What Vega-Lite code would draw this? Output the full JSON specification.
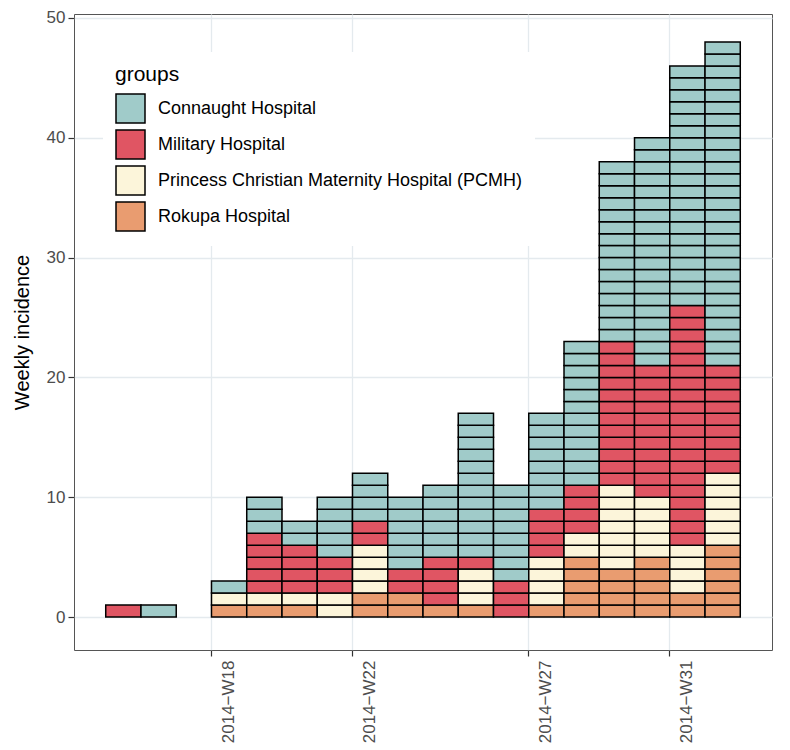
{
  "$schema": "https://vega.github.io/schema/vega-lite/v6.json",
  "width": 698,
  "height": 636,
  "autosize": {"type": "none"},
  "padding": {"left": 74, "top": 14, "right": 18, "bottom": 100},
  "background": "white",
  "config": {
    "font": "Liberation Sans",
    "view": {"stroke": "#555555", "strokeWidth": 1},
    "axis": {
      "domain": false,
      "gridColor": "#E4EAEE",
      "gridWidth": 1.3,
      "tickColor": "#333333",
      "tickSize": 6,
      "tickWidth": 1.2,
      "labelColor": "#4D4D4D",
      "labelFontSize": 17,
      "labelFont": "Liberation Sans",
      "titleFont": "Liberation Sans",
      "titleColor": "#000000",
      "titleFontSize": 20,
      "titleFontWeight": "normal"
    }
  },
  "datasets": {
    "hospitals": [
      {"code": "C", "hospital": "Connaught Hospital"},
      {"code": "M", "hospital": "Military Hospital"},
      {"code": "P", "hospital": "Princess Christian Maternity Hospital (PCMH)"},
      {"code": "R", "hospital": "Rokupa Hospital"}
    ],
    "cases": [
      {"week":15,"code":"M","n":1},
      {"week":16,"code":"C","n":1},
      {"week":18,"code":"R","n":1},{"week":18,"code":"P","n":1},{"week":18,"code":"C","n":1},
      {"week":19,"code":"R","n":1},{"week":19,"code":"P","n":1},
      {"week":19,"code":"M","n":1},{"week":19,"code":"M","n":1},{"week":19,"code":"M","n":1},{"week":19,"code":"M","n":1},{"week":19,"code":"M","n":1},
      {"week":19,"code":"C","n":1},{"week":19,"code":"C","n":1},{"week":19,"code":"C","n":1},
      {"week":20,"code":"R","n":1},{"week":20,"code":"P","n":1},
      {"week":20,"code":"M","n":1},{"week":20,"code":"M","n":1},{"week":20,"code":"M","n":1},{"week":20,"code":"M","n":1},
      {"week":20,"code":"C","n":1},{"week":20,"code":"C","n":1},
      {"week":21,"code":"P","n":1},{"week":21,"code":"P","n":1},
      {"week":21,"code":"M","n":1},{"week":21,"code":"M","n":1},{"week":21,"code":"M","n":1},
      {"week":21,"code":"C","n":1},{"week":21,"code":"C","n":1},{"week":21,"code":"C","n":1},{"week":21,"code":"C","n":1},{"week":21,"code":"C","n":1},
      {"week":22,"code":"R","n":1},{"week":22,"code":"R","n":1},
      {"week":22,"code":"P","n":1},{"week":22,"code":"P","n":1},{"week":22,"code":"P","n":1},{"week":22,"code":"P","n":1},
      {"week":22,"code":"M","n":1},{"week":22,"code":"M","n":1},
      {"week":22,"code":"C","n":1},{"week":22,"code":"C","n":1},{"week":22,"code":"C","n":1},{"week":22,"code":"C","n":1},
      {"week":23,"code":"R","n":1},{"week":23,"code":"R","n":1},
      {"week":23,"code":"M","n":1},{"week":23,"code":"M","n":1},
      {"week":23,"code":"C","n":1},{"week":23,"code":"C","n":1},{"week":23,"code":"C","n":1},{"week":23,"code":"C","n":1},{"week":23,"code":"C","n":1},{"week":23,"code":"C","n":1},
      {"week":24,"code":"R","n":1},
      {"week":24,"code":"M","n":1},{"week":24,"code":"M","n":1},{"week":24,"code":"M","n":1},{"week":24,"code":"M","n":1},
      {"week":24,"code":"C","n":1},{"week":24,"code":"C","n":1},{"week":24,"code":"C","n":1},{"week":24,"code":"C","n":1},{"week":24,"code":"C","n":1},{"week":24,"code":"C","n":1},
      {"week":25,"code":"R","n":1},
      {"week":25,"code":"P","n":1},{"week":25,"code":"P","n":1},{"week":25,"code":"P","n":1},
      {"week":25,"code":"M","n":1},
      {"week":25,"code":"C","n":1},{"week":25,"code":"C","n":1},{"week":25,"code":"C","n":1},{"week":25,"code":"C","n":1},{"week":25,"code":"C","n":1},{"week":25,"code":"C","n":1},
      {"week":25,"code":"C","n":1},{"week":25,"code":"C","n":1},{"week":25,"code":"C","n":1},{"week":25,"code":"C","n":1},{"week":25,"code":"C","n":1},{"week":25,"code":"C","n":1},
      {"week":26,"code":"M","n":1},{"week":26,"code":"M","n":1},{"week":26,"code":"M","n":1},
      {"week":26,"code":"C","n":1},{"week":26,"code":"C","n":1},{"week":26,"code":"C","n":1},{"week":26,"code":"C","n":1},
      {"week":26,"code":"C","n":1},{"week":26,"code":"C","n":1},{"week":26,"code":"C","n":1},{"week":26,"code":"C","n":1},
      {"week":27,"code":"R","n":1},
      {"week":27,"code":"P","n":1},{"week":27,"code":"P","n":1},{"week":27,"code":"P","n":1},{"week":27,"code":"P","n":1},
      {"week":27,"code":"M","n":1},{"week":27,"code":"M","n":1},{"week":27,"code":"M","n":1},{"week":27,"code":"M","n":1},
      {"week":27,"code":"C","n":1},{"week":27,"code":"C","n":1},{"week":27,"code":"C","n":1},{"week":27,"code":"C","n":1},
      {"week":27,"code":"C","n":1},{"week":27,"code":"C","n":1},{"week":27,"code":"C","n":1},{"week":27,"code":"C","n":1},
      {"week":28,"code":"R","n":1},{"week":28,"code":"R","n":1},{"week":28,"code":"R","n":1},{"week":28,"code":"R","n":1},{"week":28,"code":"R","n":1},
      {"week":28,"code":"P","n":1},{"week":28,"code":"P","n":1},
      {"week":28,"code":"M","n":1},{"week":28,"code":"M","n":1},{"week":28,"code":"M","n":1},{"week":28,"code":"M","n":1},
      {"week":28,"code":"C","n":1},{"week":28,"code":"C","n":1},{"week":28,"code":"C","n":1},{"week":28,"code":"C","n":1},{"week":28,"code":"C","n":1},{"week":28,"code":"C","n":1},
      {"week":28,"code":"C","n":1},{"week":28,"code":"C","n":1},{"week":28,"code":"C","n":1},{"week":28,"code":"C","n":1},{"week":28,"code":"C","n":1},{"week":28,"code":"C","n":1},
      {"week":29,"code":"R","n":1},{"week":29,"code":"R","n":1},{"week":29,"code":"R","n":1},{"week":29,"code":"R","n":1},
      {"week":29,"code":"P","n":1},{"week":29,"code":"P","n":1},{"week":29,"code":"P","n":1},{"week":29,"code":"P","n":1},{"week":29,"code":"P","n":1},{"week":29,"code":"P","n":1},{"week":29,"code":"P","n":1},
      {"week":29,"code":"M","n":1},{"week":29,"code":"M","n":1},{"week":29,"code":"M","n":1},{"week":29,"code":"M","n":1},{"week":29,"code":"M","n":1},{"week":29,"code":"M","n":1},
      {"week":29,"code":"M","n":1},{"week":29,"code":"M","n":1},{"week":29,"code":"M","n":1},{"week":29,"code":"M","n":1},{"week":29,"code":"M","n":1},{"week":29,"code":"M","n":1},
      {"week":29,"code":"C","n":1},{"week":29,"code":"C","n":1},{"week":29,"code":"C","n":1},{"week":29,"code":"C","n":1},{"week":29,"code":"C","n":1},
      {"week":29,"code":"C","n":1},{"week":29,"code":"C","n":1},{"week":29,"code":"C","n":1},{"week":29,"code":"C","n":1},{"week":29,"code":"C","n":1},
      {"week":29,"code":"C","n":1},{"week":29,"code":"C","n":1},{"week":29,"code":"C","n":1},{"week":29,"code":"C","n":1},{"week":29,"code":"C","n":1},
      {"week":30,"code":"R","n":1},{"week":30,"code":"R","n":1},{"week":30,"code":"R","n":1},{"week":30,"code":"R","n":1},{"week":30,"code":"R","n":1},
      {"week":30,"code":"P","n":1},{"week":30,"code":"P","n":1},{"week":30,"code":"P","n":1},{"week":30,"code":"P","n":1},{"week":30,"code":"P","n":1},
      {"week":30,"code":"M","n":1},{"week":30,"code":"M","n":1},{"week":30,"code":"M","n":1},{"week":30,"code":"M","n":1},{"week":30,"code":"M","n":1},{"week":30,"code":"M","n":1},
      {"week":30,"code":"M","n":1},{"week":30,"code":"M","n":1},{"week":30,"code":"M","n":1},{"week":30,"code":"M","n":1},{"week":30,"code":"M","n":1},
      {"week":30,"code":"C","n":1},{"week":30,"code":"C","n":1},{"week":30,"code":"C","n":1},{"week":30,"code":"C","n":1},{"week":30,"code":"C","n":1},
      {"week":30,"code":"C","n":1},{"week":30,"code":"C","n":1},{"week":30,"code":"C","n":1},{"week":30,"code":"C","n":1},{"week":30,"code":"C","n":1},
      {"week":30,"code":"C","n":1},{"week":30,"code":"C","n":1},{"week":30,"code":"C","n":1},{"week":30,"code":"C","n":1},{"week":30,"code":"C","n":1},
      {"week":30,"code":"C","n":1},{"week":30,"code":"C","n":1},{"week":30,"code":"C","n":1},{"week":30,"code":"C","n":1},
      {"week":31,"code":"R","n":1},{"week":31,"code":"R","n":1},
      {"week":31,"code":"P","n":1},{"week":31,"code":"P","n":1},{"week":31,"code":"P","n":1},{"week":31,"code":"P","n":1},
      {"week":31,"code":"M","n":1},{"week":31,"code":"M","n":1},{"week":31,"code":"M","n":1},{"week":31,"code":"M","n":1},{"week":31,"code":"M","n":1},
      {"week":31,"code":"M","n":1},{"week":31,"code":"M","n":1},{"week":31,"code":"M","n":1},{"week":31,"code":"M","n":1},{"week":31,"code":"M","n":1},
      {"week":31,"code":"M","n":1},{"week":31,"code":"M","n":1},{"week":31,"code":"M","n":1},{"week":31,"code":"M","n":1},{"week":31,"code":"M","n":1},
      {"week":31,"code":"M","n":1},{"week":31,"code":"M","n":1},{"week":31,"code":"M","n":1},{"week":31,"code":"M","n":1},{"week":31,"code":"M","n":1},
      {"week":31,"code":"C","n":1},{"week":31,"code":"C","n":1},{"week":31,"code":"C","n":1},{"week":31,"code":"C","n":1},{"week":31,"code":"C","n":1},
      {"week":31,"code":"C","n":1},{"week":31,"code":"C","n":1},{"week":31,"code":"C","n":1},{"week":31,"code":"C","n":1},{"week":31,"code":"C","n":1},
      {"week":31,"code":"C","n":1},{"week":31,"code":"C","n":1},{"week":31,"code":"C","n":1},{"week":31,"code":"C","n":1},{"week":31,"code":"C","n":1},
      {"week":31,"code":"C","n":1},{"week":31,"code":"C","n":1},{"week":31,"code":"C","n":1},{"week":31,"code":"C","n":1},{"week":31,"code":"C","n":1},
      {"week":32,"code":"R","n":1},{"week":32,"code":"R","n":1},{"week":32,"code":"R","n":1},{"week":32,"code":"R","n":1},{"week":32,"code":"R","n":1},{"week":32,"code":"R","n":1},
      {"week":32,"code":"P","n":1},{"week":32,"code":"P","n":1},{"week":32,"code":"P","n":1},{"week":32,"code":"P","n":1},{"week":32,"code":"P","n":1},{"week":32,"code":"P","n":1},
      {"week":32,"code":"M","n":1},{"week":32,"code":"M","n":1},{"week":32,"code":"M","n":1},{"week":32,"code":"M","n":1},{"week":32,"code":"M","n":1},
      {"week":32,"code":"M","n":1},{"week":32,"code":"M","n":1},{"week":32,"code":"M","n":1},{"week":32,"code":"M","n":1},
      {"week":32,"code":"C","n":1},{"week":32,"code":"C","n":1},{"week":32,"code":"C","n":1},{"week":32,"code":"C","n":1},{"week":32,"code":"C","n":1},
      {"week":32,"code":"C","n":1},{"week":32,"code":"C","n":1},{"week":32,"code":"C","n":1},{"week":32,"code":"C","n":1},{"week":32,"code":"C","n":1},
      {"week":32,"code":"C","n":1},{"week":32,"code":"C","n":1},{"week":32,"code":"C","n":1},{"week":32,"code":"C","n":1},{"week":32,"code":"C","n":1},
      {"week":32,"code":"C","n":1},{"week":32,"code":"C","n":1},{"week":32,"code":"C","n":1},{"week":32,"code":"C","n":1},{"week":32,"code":"C","n":1},
      {"week":32,"code":"C","n":1},{"week":32,"code":"C","n":1},{"week":32,"code":"C","n":1},{"week":32,"code":"C","n":1},{"week":32,"code":"C","n":1},
      {"week":32,"code":"C","n":1},{"week":32,"code":"C","n":1}
    ]
  },
  "data": {"name": "cases"},
  "transform": [
    {"lookup": "code", "from": {"data": {"name": "hospitals"}, "key": "code", "fields": ["hospital"]}}
  ],
  "mark": {"type": "bar", "stroke": "black", "strokeWidth": 1.5},
  "encoding": {
    "x": {
      "field": "week",
      "type": "ordinal",
      "scale": {"domain": [15,16,17,18,19,20,21,22,23,24,25,26,27,28,29,30,31,32], "paddingInner": 0, "paddingOuter": 0.9},
      "axis": {
        "values": [18, 22, 27, 31],
        "bandPosition": 0,
        "grid": true,
        "labelAngle": -90,
        "labelPadding": 4,
        "labelExpr": "'2014\u2212W' + datum.label",
        "title": null
      }
    },
    "y": {
      "field": "n",
      "type": "quantitative",
      "stack": "zero",
      "scale": {"domain": [-2.75, 50.33], "nice": false, "zero": false},
      "axis": {"values": [0, 10, 20, 30, 40, 50], "title": "Weekly incidence", "titlePadding": 14, "labelPadding": 3}
    },
    "color": {
      "field": "hospital",
      "type": "nominal",
      "scale": {
        "domain": ["Connaught Hospital", "Military Hospital", "Princess Christian Maternity Hospital (PCMH)", "Rokupa Hospital"],
        "range": ["#A0CBC9", "#E05563", "#FCF5DA", "#E99C70"]
      },
      "legend": {
        "orient": "none",
        "legendX": 29,
        "legendY": 38,
        "padding": 12,
        "fillColor": "white",
        "title": "groups",
        "titleFontSize": 21,
        "titleFontWeight": "normal",
        "titleColor": "black",
        "titlePadding": 8,
        "labelFontSize": 18,
        "labelColor": "black",
        "labelOffset": 12,
        "labelLimit": 0,
        "symbolType": "square",
        "symbolSize": 841,
        "symbolStrokeColor": "black",
        "symbolStrokeWidth": 1.5,
        "symbolOpacity": 1,
        "rowPadding": 1
      }
    },
    "order": {"field": "hospital", "sort": "descending"}
  }
}
